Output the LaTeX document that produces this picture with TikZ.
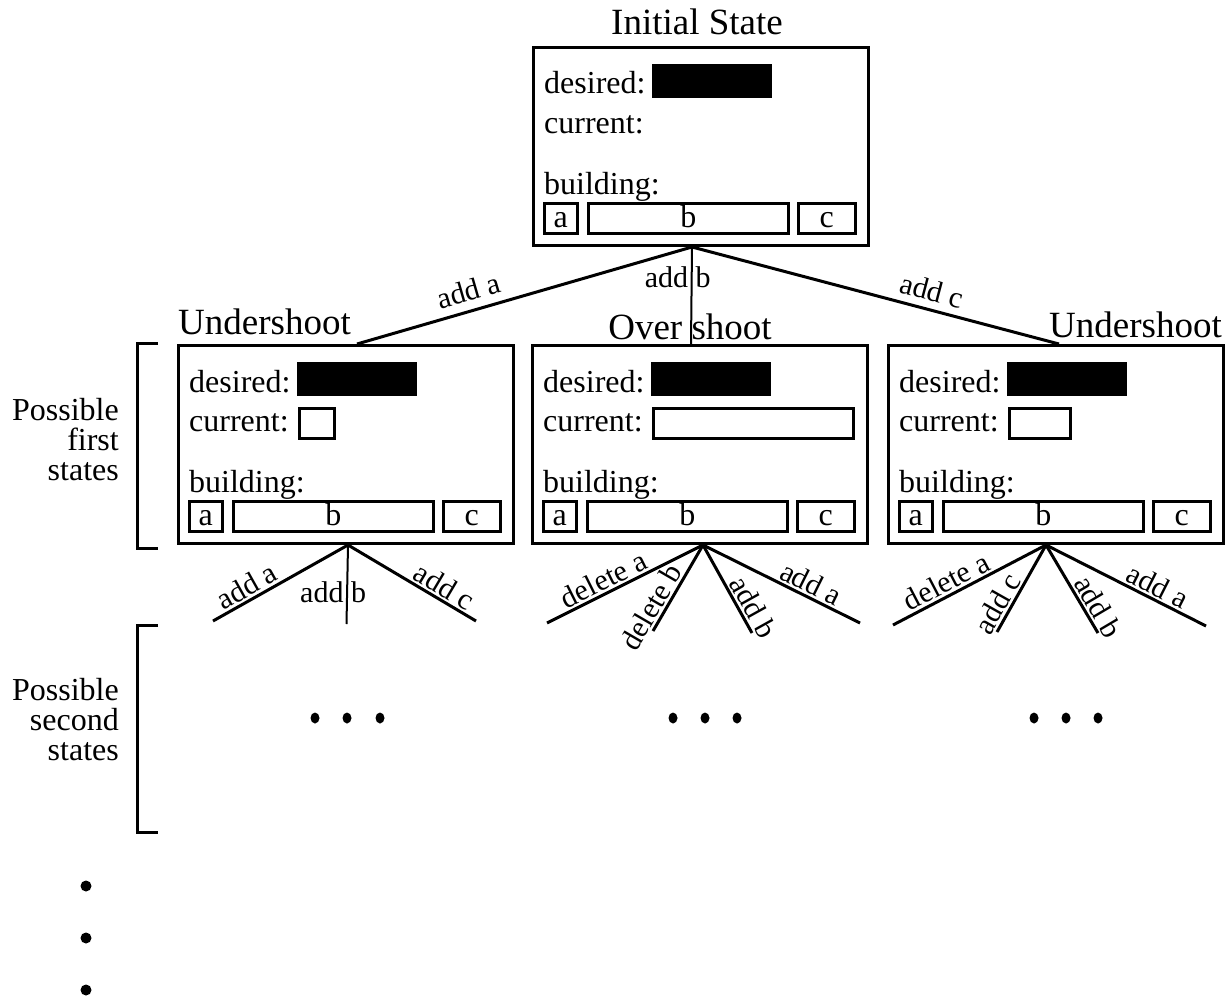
\documentclass[tikz,border=0pt]{standalone}
\usepackage{fontspec}
\setmainfont{Liberation Serif}
\usetikzlibrary{positioning}

\begin{document}
\begin{tikzpicture}[
        x=1pt, y=-1pt,
        state/.style={draw, line width=3pt, minimum width=335pt, minimum height=198pt, anchor=north west, inner sep=0pt},
        cell/.style={draw, line width=2.5pt, minimum height=30pt, anchor=north west, inner sep=0pt, text height=21pt, text depth=3pt, font=\fontsize{32}{38}\selectfont},
        field/.style={anchor=base west, inner sep=0pt, font=\fontsize{32}{38}\selectfont},
        title/.style={anchor=base, inner sep=0pt, font=\fontsize{37}{44}\selectfont},
        move/.style={line width=3pt},
        movelbl/.style={font=\fontsize{30}{34}\selectfont, inner sep=2pt},
        side/.style={anchor=east, align=right, inner sep=0pt, font=\fontsize{32}{30}\selectfont}
    ]
    \useasboundingbox (0,0) rectangle (1232,998);

    % state boxes
    \foreach \nm/\x/\y/\w in {init/532/46/0, u1/177/344/35, ov/531/344/200, u2/887/344/61} {
        \node[state] (\nm) at (\x,\y) {};
        \node[field] (\nm-d) at ([shift={(12,48)}]\nm.north west) {desired:};
        \node[fill=black, anchor=north west, minimum width=120pt, minimum height=34pt, inner sep=0pt] (\nm-dv) at ([shift={(120,18)}]\nm.north west) {};
        \node[field] (\nm-c) at ([shift={(12,87)}]\nm.north west) {current:};
        \ifnum\w>0
            \node[cell, minimum width=\w pt] (\nm-cv) at ([shift={(121,63)}]\nm.north west) {};
        \fi
        \node[field] (\nm-b) at ([shift={(12,148)}]\nm.north west) {building:};
        \node[cell, minimum width=33pt] (\nm-ba) at ([shift={(11,156)}]\nm.north west) {a};
        \node[cell, minimum width=200pt] (\nm-bb) at ([shift={(55,156)}]\nm.north west) {b};
        \node[cell, minimum width=57pt] (\nm-bc) at ([shift={(265,156)}]\nm.north west) {c};
    }

    % titles
    \node[title] (t0) at ([shift={(-4,-11)}]init.north) {Initial State};
    \node[title, anchor=base west] (t1) at ([shift={(1,-10)}]u1.north west) {Undershoot};
    \node[title] (t2) at ([shift={(-10,-5)}]ov.north) {Over shoot};
    \node[title, anchor=base east] (t3) at ([shift={(-3,-7)}]u2.north east) {Undershoot};

    % first moves
    \coordinate (r0) at ([xshift=-9pt]init.south);
    \draw[move] (r0) -- node[movelbl, sloped, above=6pt, pos=.65] {add a} ([xshift=11pt]u1.north);
    \draw[move, line width=2pt] (r0) -- node[movelbl, pos=.31, xshift=-14pt] {add b} ([xshift=-9pt]ov.north);
    \draw[move] (r0) -- node[movelbl, sloped, above=5pt, pos=.64] {add c} ([xshift=3pt]u2.north);

    % second moves
    \coordinate (r1) at ([xshift=2pt]u1.south);
    \coordinate (r2) at ([xshift=3pt]ov.south);
    \coordinate (r3) at ([xshift=-10pt]u2.south);
    \coordinate (e1a) at (213,621);
    \coordinate (e1b) at (346.5,624);
    \coordinate (e1c) at (476,621);
    \coordinate (e2a) at (547,623);
    \coordinate (e2b) at (653,631);
    \coordinate (e2c) at (752,633);
    \coordinate (e2d) at (860,623);
    \coordinate (e3a) at (893,625);
    \coordinate (e3b) at (997,632);
    \coordinate (e3c) at (1098,633);
    \coordinate (e3d) at (1206,626);

    \draw[move] (r1) -- node[movelbl, sloped, above, pos=.7] {add a} (e1a);
    \draw[move, line width=2pt] (r1) -- node[movelbl, pos=.6, xshift=-14pt] {add b} (e1b);
    \draw[move] (r1) -- node[movelbl, sloped, above, pos=.7] {add c} (e1c);

    \draw[move] (r2) -- node[movelbl, sloped, above, pos=.6] {delete a} (e2a);
    \draw[move] (r2) -- node[movelbl, sloped, above, pos=.8] {delete b} (e2b);
    \draw[move] (r2) -- node[movelbl, sloped, above, pos=.78] {add b} (e2c);
    \draw[move] (r2) -- node[movelbl, sloped, above, pos=.65] {add a} (e2d);

    \draw[move] (r3) -- node[movelbl, sloped, above, pos=.61] {delete a} (e3a);
    \draw[move] (r3) -- node[movelbl, sloped, above, pos=.75] {add c} (e3b);
    \draw[move] (r3) -- node[movelbl, sloped, above, pos=.78] {add b} (e3c);
    \draw[move] (r3) -- node[movelbl, sloped, above, pos=.66] {add a} (e3d);

    % levels
    \draw[line width=3pt] (158,343) -- (137,343) -- (137,548) -- (158,548);
    \draw[line width=3pt] (158,625) -- (137,625) -- (137,832) -- (158,832);
    \node[side] (p1) at (119,440) {Possible\\first\\states};
    \node[side] (p2) at (119,720) {Possible\\second\\states};

    % more states
    \foreach \x in {315,347,380,673,705,737,1034,1066,1098}
        \fill (\x,718) ellipse (4.5pt and 5.5pt);
    \foreach \y in {886,938,990}
        \fill (86,\y) circle (5.5pt);
\end{tikzpicture}
\end{document}
